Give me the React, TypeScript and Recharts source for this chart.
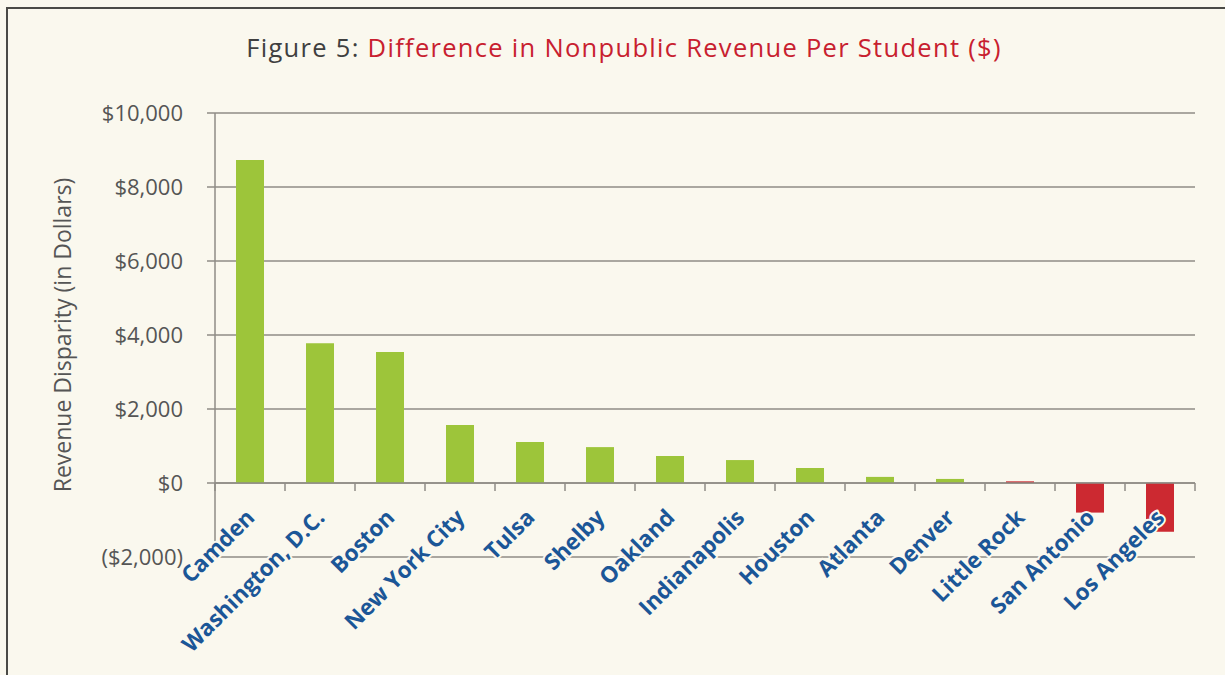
import React from 'react';
import { BarChart, Bar, XAxis, YAxis, CartesianGrid, ReferenceLine, Cell } from 'recharts';

const categories = ['Camden', 'Washington, D.C.', 'Boston', 'New York City', 'Tulsa', 'Shelby', 'Oakland', 'Indianapolis', 'Houston', 'Atlanta', 'Denver', 'Little Rock', 'San Antonio', 'Los Angeles'];
const values = [8730, 3780, 3540, 1570, 1110, 970, 730, 620, 405, 165, 110, 45, -800, -1320];
const groups = ['higher', 'higher', 'higher', 'higher', 'higher', 'higher', 'higher', 'higher', 'higher', 'higher', 'higher', 'lower', 'lower', 'lower'];
const yTicks = [-2000, 0, 2000, 4000, 6000, 8000, 10000];
const titlePrefix = 'Figure 5: ';
const titleMain = 'Difference in Nonpublic Revenue Per Student ($)';
const yLabel = 'Revenue Disparity (in Dollars)';

const data = categories.map((c, i) => ({ city: c, value: values[i], group: groups[i] }));

const W = 1225;
const H = 675;
const X_AXIS_H = 30;
const MARGIN = { top: 113, right: 30, bottom: 118 - X_AXIS_H, left: 40 };
const Y_AXIS_W = 175;
const Y_MIN = -2000;
const Y_MAX = 10000;
const PLOT_H = H - MARGIN.top - MARGIN.bottom - X_AXIS_H;
const PLOT_W = W - MARGIN.left - MARGIN.right - Y_AXIS_W;
const BAND = PLOT_W / categories.length;
const ZERO_FROM_BOTTOM = (PLOT_H * (0 - Y_MIN)) / (Y_MAX - Y_MIN);

const BG = '#FAF8EE';
const GREEN = '#9DC53A';
const RED = '#CC2931';
const GRID = '#8F8C86';
const BLUE = '#1B5697';
const TEXT = '#555555';
const FONT = '"Open Sans", "Noto Sans", sans-serif';

const fmt = (v: number) => {
  const s = '$' + Math.abs(v).toLocaleString('en-US');
  return v < 0 ? '(' + s + ')' : s;
};

const XTick = (props: any) => {
  const { x, y, payload, index } = props;
  const y0 = y - ZERO_FROM_BOTTOM;
  const left = x - BAND / 2;
  const right = x + BAND / 2;
  const tx = x + 6;
  const ty = y0 + 36;
  return (
    <g>
      <line x1={left} x2={left} y1={y0} y2={y0 + 8} stroke={GRID} strokeWidth={1.5} />
      {index === categories.length - 1 && (
        <line x1={right} x2={right} y1={y0} y2={y0 + 8} stroke={GRID} strokeWidth={1.5} />
      )}
      <text
        x={tx}
        y={ty}
        textAnchor="end"
        transform={`rotate(-45, ${tx}, ${ty})`}
        fill={BLUE}
        stroke={BG}
        strokeWidth={4}
        strokeLinejoin="round"
        paintOrder="stroke"
        fontFamily={FONT}
        fontWeight={700}
        fontSize={22.5}
      >
        {payload.value}
      </text>
    </g>
  );
};

const YLabel = (props: any) => {
  const vb = props.viewBox || { x: 0, y: 0, width: 0, height: 0 };
  const cx = vb.x + 22;
  const cy = vb.y + vb.height / 2;
  return (
    <text
      x={cx}
      y={cy}
      textAnchor="middle"
      dominantBaseline="central"
      transform={`rotate(-90, ${cx}, ${cy})`}
      fill={TEXT}
      fontFamily={FONT}
      fontSize={23}
    >
      {yLabel}
    </text>
  );
};

export default function App() {
  return (
    <div style={{ position: 'absolute', left: 0, top: 0, width: W, height: H, background: BG, overflow: 'hidden' }}>
      <div
        style={{
          position: 'absolute',
          left: 6,
          top: 7,
          width: W,
          height: H,
          borderLeft: '2px solid #4A4A46',
          borderTop: '2px solid #4A4A46',
          boxSizing: 'border-box',
        }}
      />
      <div
        style={{
          position: 'absolute',
          left: 0,
          top: 29,
          width: 1248,
          textAlign: 'center',
          fontFamily: FONT,
          fontSize: 25.5,
          letterSpacing: 1.3,
          lineHeight: '36px',
          whiteSpace: 'nowrap',
        }}
      >
        <span style={{ color: '#3F3F3F' }}>{titlePrefix}</span>
        <span style={{ color: '#C8202F' }}>{titleMain}</span>
      </div>
      <div style={{ position: 'absolute', left: 0, top: 0 }}>
        <BarChart width={W} height={H} data={data} margin={MARGIN} barCategoryGap="30%">
          <CartesianGrid horizontal vertical={false} stroke={GRID} strokeWidth={1.5} />
          <XAxis
            dataKey="city"
            axisLine={false}
            tickLine={false}
            tickSize={0}
            tickMargin={0}
            height={X_AXIS_H}
            interval={0}
            tick={<XTick />}
          />
          <YAxis
            width={Y_AXIS_W}
            domain={[Y_MIN, Y_MAX]}
            ticks={yTicks}
            tickFormatter={fmt}
            axisLine={{ stroke: GRID, strokeWidth: 1.5 }}
            tickLine={{ stroke: GRID, strokeWidth: 1.5 }}
            tickSize={8}
            tickMargin={24}
            tick={{ fill: TEXT, fontFamily: FONT, fontSize: 22 }}
            label={<YLabel />}
          />
          <ReferenceLine y={0} stroke={GRID} strokeWidth={1.5} />
          <Bar dataKey="value" isAnimationActive={false}>
            {data.map((d, i) => (
              <Cell key={i} fill={d.group === 'higher' ? GREEN : RED} />
            ))}
          </Bar>
        </BarChart>
      </div>
    </div>
  );
}
